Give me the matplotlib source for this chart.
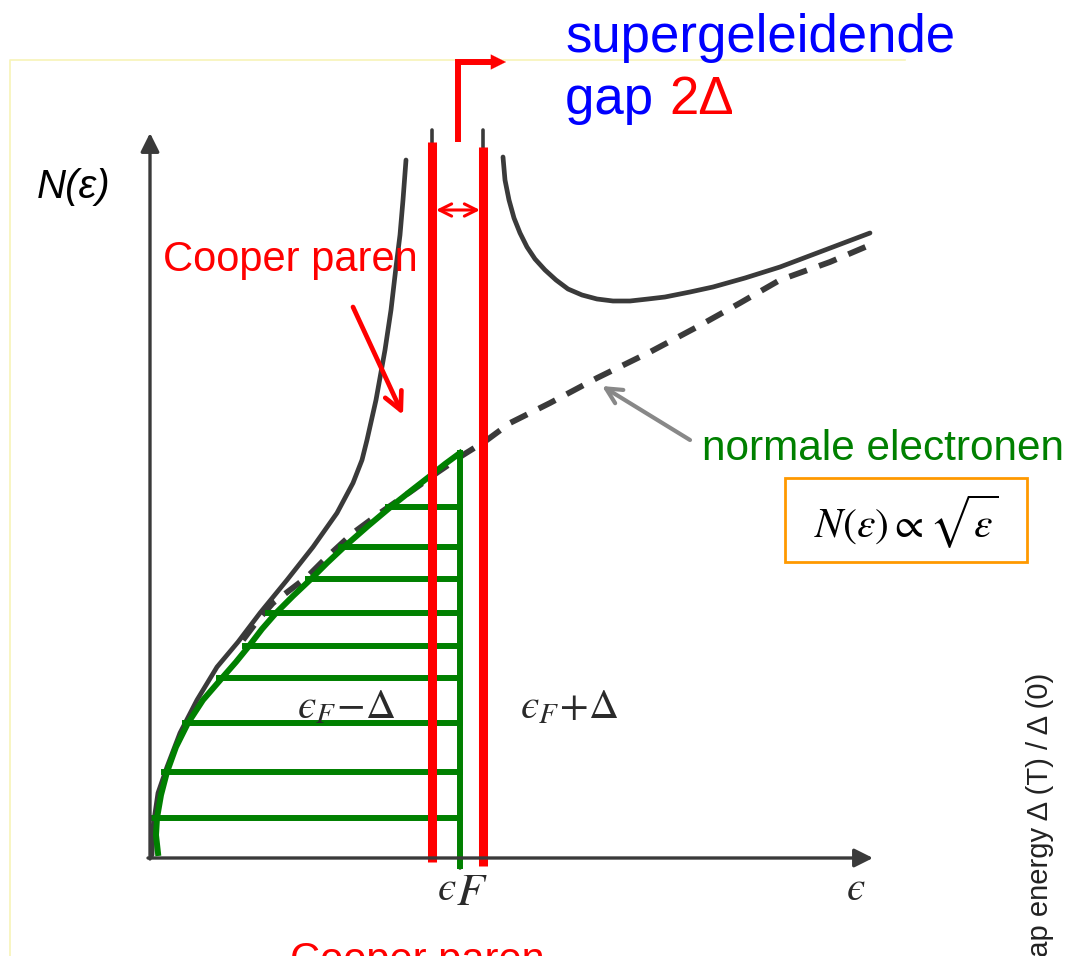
import matplotlib.pyplot as plt
from matplotlib.patches import Rectangle

W, H = 1070, 956

# axes of the sketch
axis_origin = (150, 858)
axis_x_end = 873
axis_y_end = 133

# density of states, superconducting state (solid), left branch below the gap
left_x = [152, 153, 158, 167, 180, 197, 217, 238, 260, 287, 313, 337, 353, 362,
          367, 376, 385, 391, 396, 400, 403, 406]
left_y = [855, 827, 793, 767, 733, 700, 667, 642, 613, 580, 547, 513, 483, 460,
          440, 400, 350, 310, 267, 235, 200, 160]

# right branch above the gap
right_x = [503, 505, 509, 514, 520, 527, 535, 545, 556, 568, 582, 597, 613, 630,
           648, 665, 690, 713, 745, 780, 825, 870]
right_y = [157, 180, 200, 218, 233, 247, 259, 270, 280, 289, 295, 299, 301, 301,
           299, 297, 292, 287, 278, 267, 250, 233]

# normal state N(e) ~ sqrt(e), dashed
normal_x = [243, 258, 273, 290, 307, 327, 353, 380, 413, 438, 463, 487, 510,
            550, 597, 650, 697, 740, 780, 830, 870]
normal_y = [640, 620, 603, 590, 577, 557, 533, 513, 490, 472, 455, 440, 423,
            403, 378, 352, 327, 303, 280, 262, 245]

# gap edges (thin black peaks) at e_F - Delta and e_F + Delta
gap_edges = [432, 483]
gap_top = 130
e_fermi = 460

# filled states (green outline + hatching)
fill_x = [158, 156, 157, 161, 167, 176, 188, 203, 222, 236, 249, 262, 276, 293,
          311, 327, 344, 368, 393, 412, 430, 445, 460]
fill_y = [853, 835, 818, 795, 772, 747, 723, 700, 678, 662, 646, 629, 613, 596,
          579, 563, 547, 526, 505, 490, 476, 464, 453]
hatch_y = [507, 547, 579, 613, 646, 678, 723, 772, 818]
hatch_left = [388, 341, 308, 268, 245, 219, 185, 164, 154]

# red overlay lines
red_x = [432, 483]
red_top = [142, 147]
red_bottom = [862, 866]

fig = plt.figure(figsize=(W / 100, H / 100), dpi=100)
ax = fig.add_axes([0, 0, 1, 1])
ax.set_xlim(0, W)
ax.set_ylim(H, 0)
ax.axis('off')

# pale yellow frame of the pasted image
ax.plot([10, 10, 905], [H, 60, 60], color='#f7f4b8', lw=1.2)

ink = '#3a3a3a'
# axes with arrow heads
ax.annotate('', xy=(axis_x_end, axis_origin[1]), xytext=(axis_origin[0] - 2, axis_origin[1]),
            arrowprops=dict(arrowstyle='-|>', color=ink, lw=2.4, mutation_scale=28,
                            shrinkA=0, shrinkB=0))
ax.annotate('', xy=(axis_origin[0], axis_y_end), xytext=(axis_origin[0], axis_origin[1] + 1),
            arrowprops=dict(arrowstyle='-|>', color=ink, lw=2.4, mutation_scale=28,
                            shrinkA=0, shrinkB=0))

# gap edge peaks and fermi tick
for gx in gap_edges:
    ax.plot([gx, gx], [gap_top, axis_origin[1]], color=ink, lw=2.6, solid_capstyle='round')
ax.plot([e_fermi, e_fermi], [axis_origin[1], 868], color=ink, lw=2.6, solid_capstyle='round')

# curves
ax.plot(left_x, left_y, color=ink, lw=3.4, solid_capstyle='round', solid_joinstyle='round')
ax.plot(right_x, right_y, color=ink, lw=3.4, solid_capstyle='round', solid_joinstyle='round')
ax.plot(normal_x, normal_y, color=ink, lw=4.2, linestyle=(0, (3.2, 2.2)))

# green filled-states sketch
green = '#008000'
ax.plot(fill_x, fill_y, color=green, lw=4.3, solid_joinstyle='round')
ax.plot([e_fermi, e_fermi], [fill_y[-1], 866], color=green, lw=4.3)
for hy, hx in zip(hatch_y, hatch_left):
    ax.plot([hx, e_fermi], [hy, hy], color=green, lw=4.3)

# red gap lines
for rx, rt, rb in zip(red_x, red_top, red_bottom):
    ax.plot([rx, rx], [rt, rb], color='red', lw=6.5, solid_capstyle='butt')

# gap width arrow
ax.annotate('', xy=(480, 210), xytext=(436, 210),
            arrowprops=dict(arrowstyle='<->', color='red', lw=2.2, mutation_scale=22,
                            shrinkA=0, shrinkB=0))
# elbow arrow to the label
ax.plot([458, 458, 494], [142, 62, 62], color='red', lw=4.3,
        solid_joinstyle='miter', solid_capstyle='butt')
ax.annotate('', xy=(506, 62), xytext=(490, 62),
            arrowprops=dict(arrowstyle='-|>', color='red', lw=0.1, mutation_scale=27,
                            shrinkA=0, shrinkB=0))

# Cooper pair arrow
ax.annotate('', xy=(403, 415), xytext=(353, 307),
            arrowprops=dict(arrowstyle='->', color='red', lw=3.4, mutation_scale=32,
                            shrinkA=0, shrinkB=0))
# normal electrons arrow
ax.annotate('', xy=(602, 386), xytext=(690, 440),
            arrowprops=dict(arrowstyle='->', color='#888888', lw=3.0, mutation_scale=28,
                            shrinkA=0, shrinkB=0))

sans = 'Liberation Sans'
ax.text(565, 52, 'supergeleidende', color='#0000ff', fontsize=38, family=sans,
        ha='left', va='baseline')
ax.text(565, 114, 'gap ', color='#0000ff', fontsize=38, family=sans, ha='left', va='baseline')
ax.text(669, 114, '2Δ', color='red', fontsize=38, family=sans, ha='left', va='baseline')

ax.text(163, 271, 'Cooper paren', color='red', fontsize=30, family=sans,
        ha='left', va='baseline')
ax.text(290, 972, 'Cooper paren', color='red', fontsize=30, family=sans,
        ha='left', va='baseline', clip_on=False)
ax.text(702, 460, 'normale electronen', color=green, fontsize=30.5, family=sans,
        ha='left', va='baseline')

ax.text(37, 198, 'N(ε)', color='black', fontsize=29, family=sans, style='italic',
        ha='left', va='baseline')

# proportionality box
ax.add_patch(Rectangle((785, 478), 242, 84, fill=False, edgecolor='#ff9900', lw=2.0))
ax.text(906, 522, r'$N(\varepsilon)\propto\sqrt{\varepsilon}$', fontsize=30,
        math_fontfamily='stix', ha='center', va='center', color='black')

# energy labels from the sketch (lunate epsilon)
lab = '#2a2a2a'
ax.text(297, 718, r'$ϵ_{F}\!-\!\Delta$', fontsize=30, math_fontfamily='stix',
        color=lab, ha='left', va='baseline')
ax.text(520, 718, r'$ϵ_{F}\!+\!\Delta$', fontsize=30, math_fontfamily='stix',
        color=lab, ha='left', va='baseline')
ax.text(437, 900, r'$ϵ$', fontsize=30, math_fontfamily='stix', color=lab,
        ha='left', va='baseline')
ax.text(456, 905, r'$F$', fontsize=33, math_fontfamily='stix', color=lab,
        ha='left', va='baseline')
ax.text(846, 900, r'$ϵ$', fontsize=30, math_fontfamily='stix', color=lab,
        ha='left', va='baseline')

# clipped rotated label at the right edge
ax.text(1048, 973, 'gap energy Δ (T) / Δ (0)', rotation=90, rotation_mode='anchor',
        fontsize=21, family=sans, color='#222222', ha='left', va='baseline', clip_on=False)

fig.savefig('out.png', dpi=100)
